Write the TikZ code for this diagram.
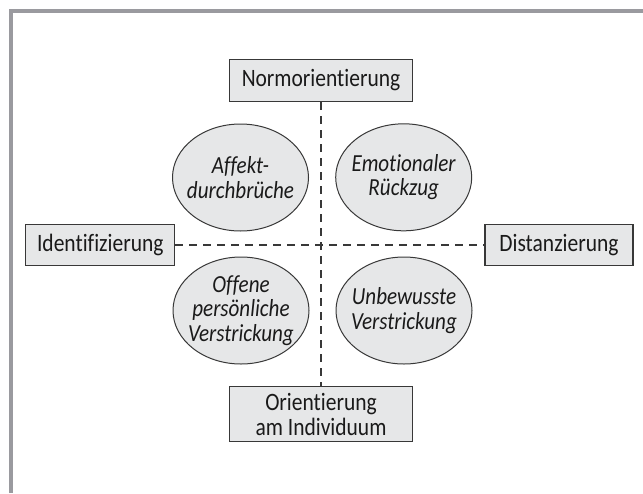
\documentclass[tikz,border=0pt]{standalone}
\usepackage{fontspec}
\setmainfont[Ligatures=NoCommon, FakeStretch=0.86]{Carlito}
\usetikzlibrary{shapes.geometric}
\definecolor{framegray}{HTML}{9A9A9F}
\definecolor{boxfill}{HTML}{E6E7E8}
\definecolor{edge}{HTML}{383838}
\definecolor{ink}{HTML}{1A1A1A}
\tikzset{
  lbl/.style={draw=edge, line width=1.1pt, fill=boxfill, text=ink, inner sep=0pt,
    font=\fontsize{25}{25}\selectfont, align=center},
  oval/.style={ellipse, draw=edge, line width=1pt, fill=boxfill, inner sep=0pt,
    minimum width=136pt, minimum height=107pt},
  ovaltext/.style={text=ink, inner sep=0pt, font=\fontsize{24.5}{24.5}\selectfont\itshape, align=center},
  axis/.style={draw=edge, line width=1.4pt, dash pattern=on 8pt off 6pt}
}
\begin{document}
\begin{tikzpicture}[x=1pt,y=-1pt]
\useasboundingbox (0,0) rectangle (643,493);
\draw[framegray, line width=3.6pt] (10.7,493) -- (10.7,10.7) -- (643,10.7);
\node[lbl, minimum width=183pt, minimum height=42pt] (N) at (321,80.5) {Normorientierung};
\node[lbl, minimum width=149pt, minimum height=41.5pt] (I) at (100.3,244.8) {Identifizierung};
\node[lbl, minimum width=148pt, minimum height=41.5pt] (D) at (559,244.8) {Distanzierung};
\node[lbl, minimum width=183pt, minimum height=55pt] (O) at (321,414.2) {Orientierung\\am Individuum};
\draw[axis] (N.south) -- (O.north);
\draw[axis] (I.east) -- (D.west);
\node[oval] (A) at (240.5,177.5) {};
\node[oval] (E) at (403.7,177.3) {};
\node[oval] (P) at (241,310.5) {};
\node[oval] (U) at (404,310.5) {};
\node[ovaltext] (At) at (A) {Affekt-\\durchbrüche};
\node[ovaltext] (Et) at (E) {Emotionaler\\Rückzug};
\node[ovaltext] (Pt) at (P) {Offene\\persönliche\\Verstrickung};
\node[ovaltext] (Ut) at (U) {Unbewusste\\Verstrickung};
\end{tikzpicture}
\end{document}
